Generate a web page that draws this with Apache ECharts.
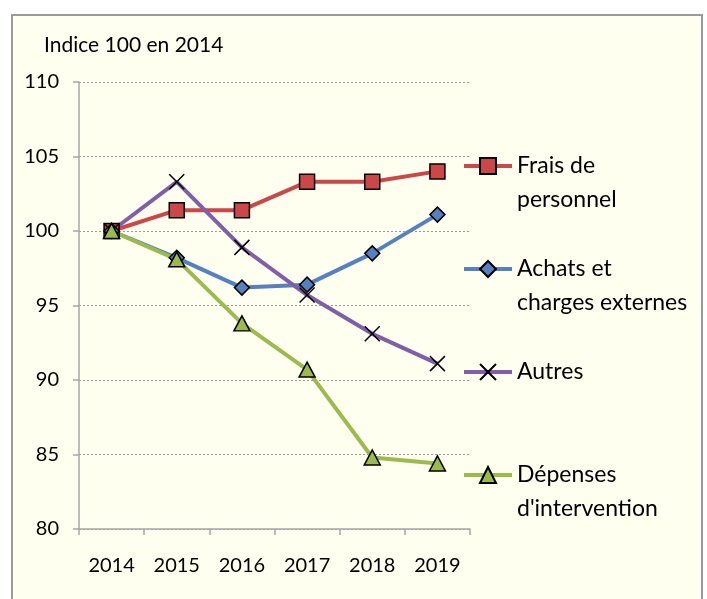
<!DOCTYPE html>
<html>
<head>
<meta charset="utf-8">
<script src="https://cdn.jsdelivr.net/npm/echarts@6/dist/echarts.min.js"></script>
<style>
  html, body { margin: 0; padding: 0; background: #ffffff; }
  #main { width: 707px; height: 599px; }
</style>
</head>
<body>
<div id="main"></div>
<script>
var chartDom = document.getElementById('main');
var myChart = echarts.init(chartDom);
var option;

// données (indice 100 en 2014)
var years = ['2014', '2015', '2016', '2017', '2018', '2019'];
var fraisPersonnel = [100, 101.4, 101.4, 103.3, 103.3, 104.0];
var achatsCharges = [100, 98.2, 96.2, 96.4, 98.5, 101.1];
var autres = [100, 103.3, 98.9, 95.7, 93.1, 91.1];
var depensesIntervention = [100, 98.1, 93.8, 90.7, 84.8, 84.4];

var font = 'Lato';
var crossPath = 'path://M0,0L10,10M10,0L0,10';

option = {
    backgroundColor: '#ffffff',
    textStyle: { fontFamily: font },
    animation: false,
    graphic: [{
        type: 'rect',
        z: -10,
        shape: { x: 12, y: 15, width: 690, height: 620 },
        style: { fill: '#fffff0', stroke: '#9a9a9a', lineWidth: 2 }
    }],
    title: {
        text: 'Indice 100 en 2014',
        left: 44,
        top: 35,
        padding: 0,
        textStyle: { fontFamily: font, fontSize: 21, fontWeight: 'normal', color: '#000' }
    },
    grid: { left: 79, right: 237, top: 82, bottom: 70 },
    xAxis: {
        type: 'category',
        data: years,
        boundaryGap: true,
        axisLine: { lineStyle: { color: '#a6a6a6', width: 1.5 } },
        axisTick: { show: true, length: 6, lineStyle: { color: '#a6a6a6', width: 1.5 } },
        axisLabel: { color: '#000', fontSize: 20, fontFamily: font, margin: 27 },
        splitLine: { show: false }
    },
    yAxis: {
        type: 'value',
        min: 80,
        max: 110,
        interval: 5,
        axisLine: { show: true, lineStyle: { color: '#a6a6a6', width: 1.5 } },
        axisTick: { show: true, length: 6, lineStyle: { color: '#a6a6a6', width: 1.5 } },
        axisLabel: { color: '#000', fontSize: 20, fontFamily: font, margin: 20 },
        splitLine: { show: true, lineStyle: { color: '#9a9a9a', type: [2, 2], width: 1 } }
    },
    legend: {
        orient: 'vertical',
        left: 462,
        top: 115,
        padding: 0,
        itemGap: 1,
        itemWidth: 48,
        itemHeight: 20,
        selectedMode: false,
        lineStyle: { width: 4 },
        textStyle: { fontFamily: font, fontSize: 23, color: '#000', lineHeight: 34 },
        formatter: function (name) {
            if (name === 'Frais de personnel') return '\nFrais de\npersonnel';
            if (name === 'Achats et charges externes') return '\nAchats et\ncharges externes';
            if (name === 'Autres') return '\nAutres\n';
            return '\nDépenses\nd\'intervention';
        },
        data: ['Frais de personnel', 'Achats et charges externes', 'Autres', "Dépenses d'intervention"]
    },
    series: [{
        name: 'Frais de personnel',
        type: 'line',
        data: fraisPersonnel,
        symbol: 'rect',
        symbolSize: 15,
        lineStyle: { color: '#cc4848', width: 4 },
        itemStyle: { color: '#cc4848', borderColor: '#000', borderWidth: 1.5 }
    }, {
        name: 'Achats et charges externes',
        type: 'line',
        data: achatsCharges,
        symbol: 'diamond',
        symbolSize: 15,
        lineStyle: { color: '#5581c0', width: 4 },
        itemStyle: { color: '#5581c0', borderColor: '#000', borderWidth: 1.5 }
    }, {
        name: 'Autres',
        type: 'line',
        data: autres,
        symbol: crossPath,
        symbolSize: 15,
        lineStyle: { color: '#7f5fa8', width: 4 },
        itemStyle: { color: 'transparent', borderColor: '#000', borderWidth: 1.5 }
    }, {
        name: "Dépenses d'intervention",
        type: 'line',
        data: depensesIntervention,
        symbol: 'triangle',
        symbolSize: [16, 15],
        lineStyle: { color: '#9bbb4f', width: 4 },
        itemStyle: { color: '#9bbb4f', borderColor: '#000', borderWidth: 1.5 }
    }]
};

option && myChart.setOption(option);
</script>
</body>
</html>
